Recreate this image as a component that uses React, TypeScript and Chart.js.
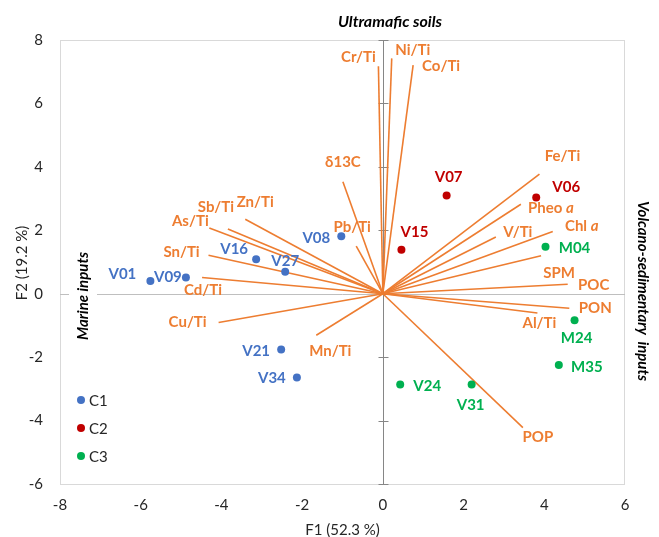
import React, { useEffect, useRef } from "react";
import { Chart, registerables } from "chart.js";

Chart.register(...registerables);

// ---------- data ----------
const classNames = ["C1", "C2", "C3"];
const classColors = ["#4472C4", "#C00000", "#00B050"];
const vectorColor = "#ED7D31";

const c1Labels = ["V01", "V09", "V16", "V27", "V08", "V21", "V34"];
const c1F1 = [-5.76, -4.88, -3.14, -2.42, -1.03, -2.52, -2.13];
const c1F2 = [0.4, 0.51, 1.09, 0.69, 1.81, -1.76, -2.64];

const c2Labels = ["V07", "V06", "V15"];
const c2F1 = [1.58, 3.8, 0.46];
const c2F2 = [3.1, 3.03, 1.39];

const c3Labels = ["M04", "M24", "M35", "V24", "V31"];
const c3F1 = [4.03, 4.75, 4.36, 0.43, 2.2];
const c3F2 = [1.48, -0.84, -2.25, -2.86, -2.86];

const varNames = [
  "Cr/Ti", "Ni/Ti", "Co/Ti", "δ13C", "Pb/Ti", "Fe/Ti", "Pheo a", "V/Ti", "Chl a", "SPM", "POC",
  "PON", "Al/Ti", "POP", "Mn/Ti", "Cu/Ti", "Cd/Ti", "Sn/Ti", "As/Ti", "Sb/Ti", "Zn/Ti",
];
const varF1 = [
  -0.11, 0.22, 0.75, -0.99, -0.66, 3.88, 3.42, 2.8, 4.21, 3.92, 4.58,
  4.62, 3.83, 3.47, -1.65, -4.07, -4.48, -4.32, -4.3, -3.84, -3.41,
];
const varF2 = [
  7.17, 7.42, 7.21, 3.53, 1.5, 3.77, 2.82, 1.79, 1.96, 1.2, 0.3,
  -0.46, -0.61, -4.22, -1.31, -0.91, 0.51, 1.21, 2.07, 2.04, 2.35,
];

const xMin = -8, xMax = 6, yMin = -6, yMax = 8, tickStep = 2;
const xTitle = "F1 (52.3 %)";
const yTitle = "F2 (19.2 %)";
const topNote = "Ultramafic soils";
const leftNote = "Marine inputs";
const rightNote = "Volcano-sedimentary  inputs";

// ---------- label placement (pixel offsets from the mark) ----------
const c1Off = [[-28, -7], [-18, 0], [-22, -10], [0, -11], [-25, 2], [-25, 2], [-25, 1]];
const c2Off = [[2, -18], [30, -10], [13, -17]];
const c3Off = [[29, 1], [2, 18], [28, 2], [27, 2], [-1, 21]];
const varOff = [
  [-20, -9], [21, -8], [28, 1], [0, -20], [-4, -19], [23, -18], [30, 4], [22, -5], [29, -5], [18, 17], [26, 1],
  [26, 0], [2, 10], [15, 10], [14, 16], [-31, 0], [1, 13], [-27, -3], [-19, -7], [-12, -22], [10, -17],
];

const FONT = "Lato, 'Open Sans', sans-serif";
const LABEL_SIZE = 15;

function drawRich(ctx: CanvasRenderingContext2D, text: string, cx: number, cy: number, size: number) {
  const segs: { t: string; it: boolean }[] = [];
  if (/ a$/.test(text)) {
    segs.push({ t: text.slice(0, -1), it: false });
    segs.push({ t: "a", it: true });
  } else segs.push({ t: text, it: false });
  let total = 0;
  const widths = segs.map((s) => {
    ctx.font = `${s.it ? "italic " : ""}bold ${size}px ${FONT}`;
    const w = ctx.measureText(s.t).width;
    total += w;
    return w;
  });
  let x = cx - total / 2;
  ctx.textAlign = "left";
  ctx.textBaseline = "middle";
  segs.forEach((s, i) => {
    ctx.font = `${s.it ? "italic " : ""}bold ${size}px ${FONT}`;
    ctx.fillText(s.t, x, cy);
    x += widths[i];
  });
}

const decorPlugin = {
  id: "decor",
  beforeDatasetsDraw(chart: any) {
    const { ctx, chartArea: a, scales } = chart;
    const xs = scales.x, ys = scales.y;
    ctx.save();
    ctx.strokeStyle = "#D9D9D9";
    ctx.lineWidth = 1;
    ctx.strokeRect(Math.round(a.left) + 0.5, Math.round(a.top) + 0.5, Math.round(a.right - a.left) - 1, Math.round(a.bottom - a.top));
    const x0 = Math.round(xs.getPixelForValue(0)) + 0.5;
    const y0 = Math.round(ys.getPixelForValue(0)) + 0.5;
    ctx.strokeStyle = "#BFBFBF";
    ctx.beginPath();
    ctx.moveTo(a.left, y0);
    ctx.lineTo(a.right, y0);
    ctx.stroke();
    ctx.strokeStyle = "#868686";
    ctx.beginPath();
    ctx.moveTo(x0, a.top);
    ctx.lineTo(x0, a.bottom);
    for (let v = yMin; v <= yMax; v += tickStep) {
      const py = Math.round(ys.getPixelForValue(v)) + 0.5;
      ctx.moveTo(x0 - 5, py);
      ctx.lineTo(x0 + 5, py);
    }
    ctx.stroke();
    ctx.restore();
  },
  afterDatasetsDraw(chart: any) {
    const { ctx, chartArea: a, scales } = chart;
    const xs = scales.x, ys = scales.y;
    ctx.save();
    ctx.fillStyle = vectorColor;
    varNames.forEach((n, i) => {
      const px = xs.getPixelForValue(varF1[i]) + varOff[i][0];
      const py = ys.getPixelForValue(varF2[i]) + varOff[i][1];
      drawRich(ctx, n, px, py, LABEL_SIZE);
    });
    const sets = [
      { l: c1Labels, x: c1F1, y: c1F2, o: c1Off },
      { l: c2Labels, x: c2F1, y: c2F2, o: c2Off },
      { l: c3Labels, x: c3F1, y: c3F2, o: c3Off },
    ];
    sets.forEach((s, k) => {
      ctx.fillStyle = classColors[k];
      s.l.forEach((n, i) => {
        const px = xs.getPixelForValue(s.x[i]) + s.o[i][0];
        const py = ys.getPixelForValue(s.y[i]) + s.o[i][1];
        drawRich(ctx, n, px, py, LABEL_SIZE);
      });
    });
    classNames.forEach((n, k) => {
      const ly = 400 + k * 28;
      ctx.fillStyle = classColors[k];
      ctx.beginPath();
      ctx.arc(81, ly, 4, 0, Math.PI * 2);
      ctx.fill();
      ctx.fillStyle = "#262626";
      ctx.font = `15px ${FONT}`;
      ctx.textAlign = "left";
      ctx.textBaseline = "middle";
      ctx.fillText(n, 89, ly + 1);
    });
    ctx.fillStyle = "#000";
    ctx.font = `italic bold 16px ${FONT}`;
    ctx.textAlign = "center";
    ctx.textBaseline = "middle";
    ctx.fillText(topNote, 390, 22);
    ctx.font = `italic bold 15px ${FONT}`;
    ctx.save();
    ctx.translate(83, 296);
    ctx.rotate(-Math.PI / 2);
    const mw = ctx.measureText(leftNote).width;
    ctx.fillStyle = "#fff";
    ctx.fillRect(-mw / 2 - 4, -14, mw + 8, 28);
    ctx.fillStyle = "#000";
    ctx.fillText(leftNote, 0, 0);
    ctx.restore();
    ctx.save();
    ctx.translate(643, 291);
    ctx.rotate(Math.PI / 2);
    ctx.fillText(rightNote, 0, 0);
    ctx.restore();
    ctx.fillStyle = "#262626";
    ctx.font = `15px ${FONT}`;
    ctx.fillText(xTitle, (a.left + a.right) / 2, 530);
    ctx.save();
    ctx.translate(22, 263);
    ctx.rotate(-Math.PI / 2);
    ctx.fillText(yTitle, 0, 0);
    ctx.restore();
    ctx.restore();
  },
};

export default function App() {
  const ref = useRef<HTMLCanvasElement>(null);
  useEffect(() => {
    if (!ref.current) return;
    const pointSets = [
      { f1: c1F1, f2: c1F2 },
      { f1: c2F1, f2: c2F2 },
      { f1: c3F1, f2: c3F2 },
    ];
    const datasets: any[] = pointSets.map((s, i) => ({
      label: classNames[i],
      data: s.f1.map((x, j) => ({ x, y: s.f2[j] })),
      backgroundColor: classColors[i],
      borderColor: classColors[i],
      pointRadius: 4,
      pointBorderWidth: 0,
      pointHoverRadius: 4,
    }));
    varNames.forEach((n, i) => {
      datasets.push({
        label: n,
        data: [
          { x: 0, y: 0 },
          { x: varF1[i], y: varF2[i] },
        ],
        showLine: true,
        borderColor: vectorColor,
        backgroundColor: vectorColor,
        borderWidth: 1.6,
        pointRadius: 0,
        pointHoverRadius: 0,
      });
    });
    const tickFont = { family: FONT, size: 15 };
    const chart = new Chart(ref.current, {
      type: "scatter",
      data: { datasets },
      options: {
        animation: false,
        responsive: true,
        maintainAspectRatio: false,
        layout: { padding: { top: 40, right: 34, left: 0, bottom: 0 } },
        plugins: { legend: { display: false }, tooltip: { enabled: false } },
        scales: {
          x: {
            type: "linear",
            min: xMin,
            max: xMax,
            ticks: { stepSize: tickStep, font: tickFont, color: "#262626", padding: 12 },
            grid: { display: false, drawTicks: false },
            border: { display: false },
            afterFit: (s: any) => {
              s.height = 53;
            },
          },
          y: {
            type: "linear",
            min: yMin,
            max: yMax,
            ticks: { stepSize: tickStep, font: tickFont, color: "#262626", padding: 17 },
            grid: { display: false, drawTicks: false },
            border: { display: false },
            afterFit: (s: any) => {
              s.width = 60;
            },
          },
        },
      } as any,
      plugins: [decorPlugin],
    });
    return () => chart.destroy();
  }, []);
  return (
    <div style={{ position: "fixed", left: 0, top: 0, width: 659, height: 537, background: "#fff" }}>
      <canvas ref={ref} />
    </div>
  );
}
